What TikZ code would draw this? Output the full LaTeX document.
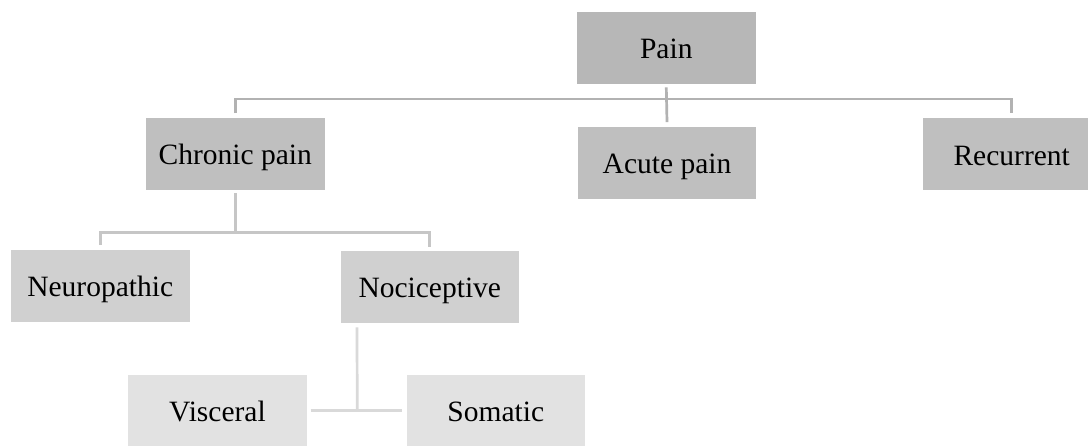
\documentclass[tikz,border=0pt]{standalone}
\usepackage{fontspec}
\setmainfont{Liberation Serif}
\definecolor{cTop}{HTML}{B7B7B7}
\definecolor{cOne}{HTML}{BFBFBF}
\definecolor{cTwo}{HTML}{D0D0D0}
\definecolor{cThree}{HTML}{E2E2E2}
\definecolor{lOne}{HTML}{B2B2B2}
\definecolor{lTwo}{HTML}{C6C6C6}
\definecolor{lThree}{HTML}{D9D9D9}
\tikzset{
  box/.style={rectangle, draw=white, line width=0.8pt, minimum width=179.5pt, minimum height=73pt,
    inner sep=0pt, text height=21.5pt, text depth=0pt, font=\fontsize{29.5}{32}\selectfont, text=black},
  conn/.style={line width=2.7pt},
  lineone/.style={conn, draw=lOne},
  linetwo/.style={conn, draw=lTwo},
  linethree/.style={conn, draw=lThree}
}
\begin{document}
\begin{tikzpicture}[x=1pt,y=1pt]
\clip (0,0) rectangle (1088,-445);
\fill[white] (0,0) rectangle (1088,-445);
% nodes
\node[box, fill=cTop] (pain) at (666.3,-47.5) {Pain};
\node[box, fill=cOne] (chronic) at (235.3,-153.5) {Chronic pain};
\node[box, fill=cOne] (acute) at (667,-162.5) {Acute pain};
\node[box, fill=cOne, text height=24pt] (recurrent) at (1011.7,-153.6) {Recurrent};
\node[box, fill=cTwo] (neuro) at (100.2,-285.6) {Neuropathic};
\node[box, fill=cTwo] (noci) at (429.8,-287) {Nociceptive};
\node[box, fill=cThree] (visc) at (217.5,-410.5) {Visceral};
\node[box, fill=cThree] (soma) at (495.8,-410.5) {Somatic};
% bus coordinates
\coordinate (busone) at (666.5,-99);
\coordinate (bustwo) at (235.3,-232.3);
\coordinate (busthree) at (357.3,-410.5);
% level 1 connectors
\draw[lineone] ([yshift=-3pt]pain.south) -- ([yshift=3.5pt]acute.north);
\draw[lineone] ([yshift=3.5pt]chronic.north) |- (busone) -| ([yshift=3.5pt]recurrent.north);
% level 2 connectors
\draw[linetwo] ([yshift=-3pt]chronic.south) -- (bustwo);
\draw[linetwo] ([yshift=3.5pt]neuro.north) |- (bustwo) -| ([yshift=3.5pt]noci.north);
% level 3 connectors
\draw[linethree] ([xshift=17.3pt,yshift=-3.5pt]noci.south west) -- (busthree);
\draw[linethree] ([xshift=3pt]visc.east) -- ([xshift=-3.3pt]soma.west);
\end{tikzpicture}
\end{document}
